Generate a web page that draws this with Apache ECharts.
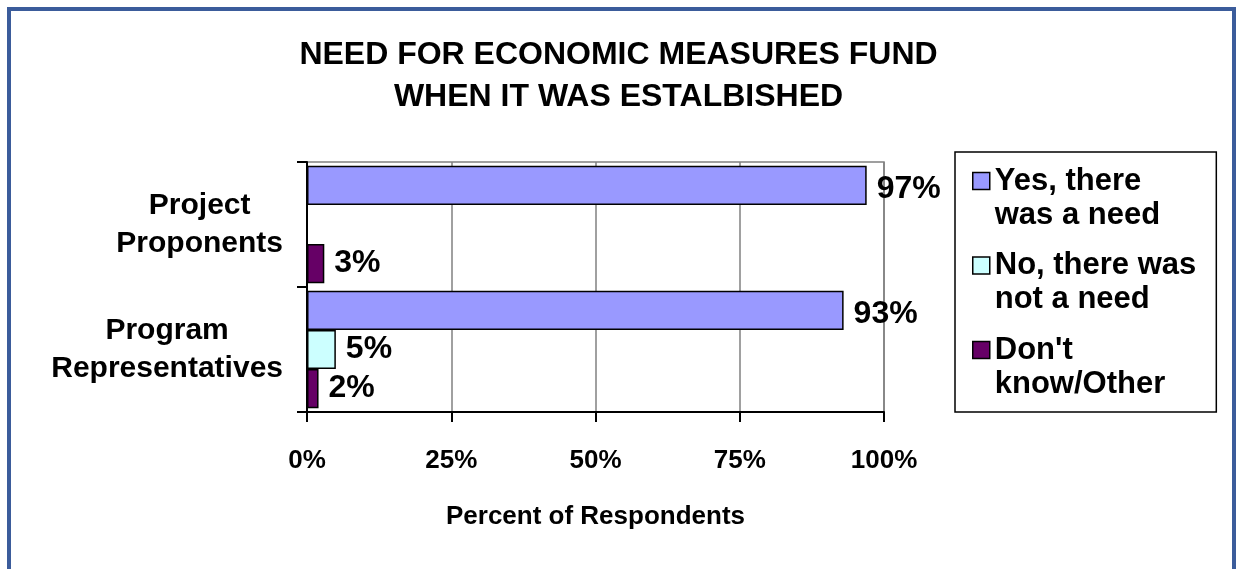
<!DOCTYPE html>
<html><head><meta charset="utf-8">
<script src="https://cdn.jsdelivr.net/npm/echarts@6/dist/echarts.min.js"></script>
<style>
html,body{margin:0;padding:0;background:#fff;}
#frame{position:absolute;left:7px;top:7px;width:1221px;height:600px;border:4px solid #3b5c9b;}
#chart{position:absolute;left:0;top:0;width:1237px;height:569px;}
</style></head><body>
<div id="frame"></div><div id="chart"></div>
<script>
const categories = ['Project Proponents', 'Program Representatives'];
const categoryLines = [['Project', 'Proponents'], ['Program', 'Representatives']];
const seriesNames = ['Yes, there was a need', 'No, there was not a need', "Don't know/Other"];
const legendLabels = ['Yes, there\nwas a need', 'No, there was\nnot a need', "Don't\nknow/Other"];
const yesValues = [97, 93];
const noValues = [0, 5];
const dontKnowValues = [3, 2];
const xMin = 0, xMax = 100, xStep = 25;
const colors = ['#9999FF', '#CCFFFF', '#660066'];

const SANS = "'Liberation Sans', Arial, sans-serif";

const chart = echarts.init(document.getElementById('chart'), null, {renderer: 'canvas'});

function makeSeries(name, values, color, labelOffset) {
  return {
    name: name,
    type: 'bar',
    data: values,
    barGap: '0%',
    barCategoryGap: '6%',
    itemStyle: {color: color, borderColor: '#000', borderWidth: 1.5},
    label: {
      show: true, position: 'right', distance: 10, offset: labelOffset,
      formatter: p => (p.value ? p.value + '%' : ''),
      fontFamily: SANS, fontWeight: 'bold', fontSize: 32, color: '#000'
    },
    emphasis: {disabled: true}
  };
}

const option = {
  animation: false,
  backgroundColor: 'transparent',
  title: {
    text: 'NEED FOR ECONOMIC MEASURES FUND\nWHEN IT WAS ESTALBISHED',
    left: 'center', top: 34, padding: 0,
    textStyle: {fontFamily: SANS, fontWeight: 'bold', fontSize: 32, lineHeight: 42, color: '#000'}
  },
  grid: {
    left: 307, right: 353, top: 162, bottom: 157,
    show: true, borderColor: '#808080', borderWidth: 1.5, backgroundColor: 'transparent',
    containLabel: false, outerBoundsMode: 'none'
  },
  legend: {
    orient: 'vertical', left: 955, top: 152,
    data: seriesNames,
    formatter: n => '\n' + legendLabels[seriesNames.indexOf(n)],
    icon: 'rect', itemWidth: 17, itemHeight: 17, itemGap: -17.5,
    padding: [-22, 20, 11, 17],
    borderColor: '#000', borderWidth: 1.5, backgroundColor: '#fff',
    selectedMode: false,
    itemStyle: {borderColor: '#000', borderWidth: 1.5},
    textStyle: {fontFamily: SANS, fontWeight: 'bold', fontSize: 31, lineHeight: 34, color: '#000'}
  },
  xAxis: {
    type: 'value', min: xMin, max: xMax, interval: xStep,
    axisLine: {show: true, lineStyle: {color: '#000', width: 2}},
    axisTick: {show: true, length: 10, lineStyle: {color: '#000', width: 2}},
    splitLine: {show: true, lineStyle: {color: '#808080', width: 1.5}},
    axisLabel: {formatter: '{value}%', margin: 36, fontFamily: SANS, fontWeight: 'bold', fontSize: 26, lineHeight: 26, color: '#000'},
    name: 'Percent of Respondents', nameLocation: 'middle', nameGap: 92,
    nameTextStyle: {fontFamily: SANS, fontWeight: 'bold', fontSize: 26, lineHeight: 26, color: '#000'}
  },
  yAxis: {
    type: 'category', inverse: true, data: categories,
    axisLine: {show: true, lineStyle: {color: '#000', width: 2}},
    axisTick: {show: true, length: 10, lineStyle: {color: '#000', width: 2}},
    splitLine: {show: false},
    axisLabel: {
      margin: 24,
      formatter: (v) => categoryLines[categories.indexOf(v)].map(s => '{c|' + s + '}').join('\n'),
      rich: {c: {align: 'center', fontFamily: SANS, fontWeight: 'bold', fontSize: 30, lineHeight: 38, color: '#000'}}
    }
  },
  series: [
    makeSeries(seriesNames[0], yesValues, colors[0], [0, 4]),
    makeSeries(seriesNames[1], noValues, colors[1], [0, 0]),
    makeSeries(seriesNames[2], dontKnowValues, colors[2], [0, 0])
  ]
};
chart.setOption(option);
</script>
</body></html>
